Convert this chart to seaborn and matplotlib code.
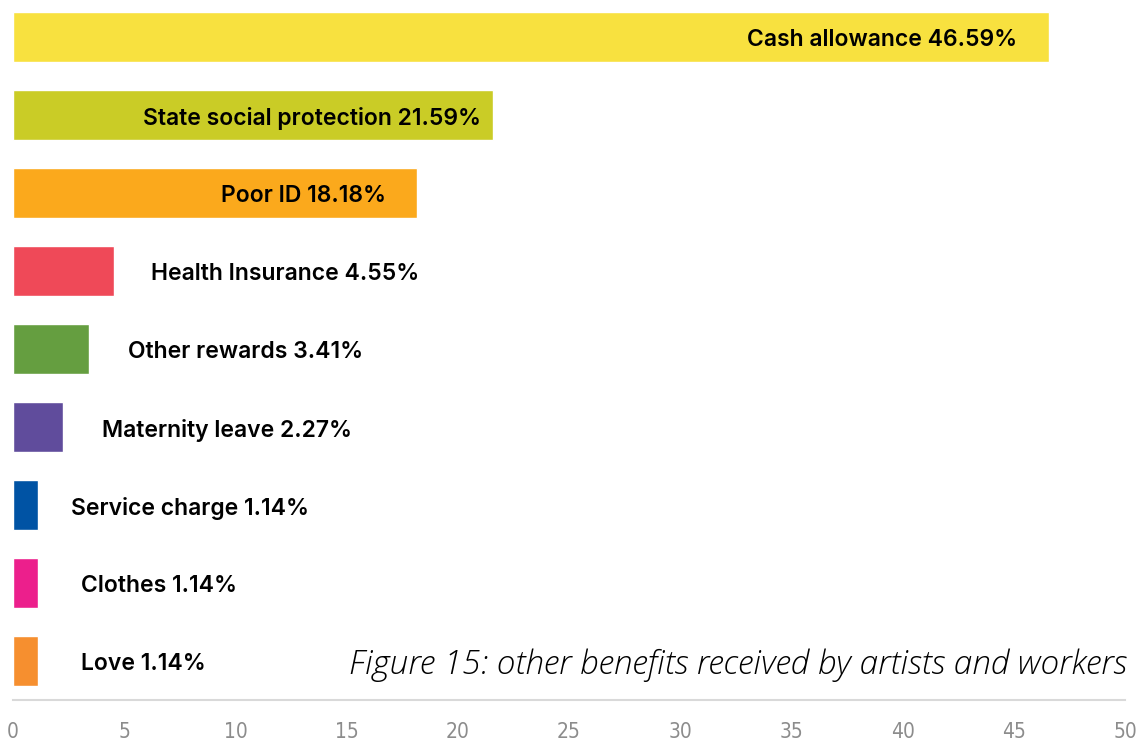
import matplotlib
matplotlib.use("Agg")
import matplotlib.pyplot as plt
import seaborn as sns
import pandas as pd

# Benefits received and their shares (%)
benefits = [
    "Cash allowance",
    "State social protection",
    "Poor ID",
    "Health Insurance",
    "Other rewards",
    "Maternity leave",
    "Service charge",
    "Clothes",
    "Love",
]
shares = [46.59, 21.59, 18.18, 4.55, 3.41, 2.27, 1.14, 1.14, 1.14]
bar_colors = [
    "#F8E13F", "#CACC26", "#FBA91C", "#EF4958", "#659E40",
    "#604C9C", "#0053A4", "#EC1F8C", "#F68F2F",
]
x_ticks = [0, 5, 10, 15, 20, 25, 30, 35, 40, 45, 50]
caption = "Figure 15: other benefits received by artists and workers"

# label placement: inside (right-aligned) for long bars, outside otherwise; offset in px
label_inside = [True, True, True, False, False, False, False, False, False]
label_offset = [32, 12, 31, 37, 39, 39, 33, 43, 43]

df = pd.DataFrame({"benefit": benefits, "share": shares})

sns.set_theme(style="white")
plt.rcParams["font.family"] = ["Inter", "DejaVu Sans"]

W, H = 1142, 740
fig = plt.figure(figsize=(W / 100, H / 100), dpi=100)
ax = fig.add_axes([13 / W, 40 / H, (1125 - 13) / W, 700 / H])

sns.barplot(
    data=df, x="share", y="benefit", hue="benefit", palette=bar_colors,
    legend=False, orient="h", width=0.64, saturation=1, ax=ax,
)

ax.set_xlim(0, 50)
ax.set_ylim(8.5, -0.47)
ax.set_xticks(x_ticks)
ax.set_xticklabels([str(t) for t in x_ticks], family="DejaVu Sans",
                   stretch="condensed", fontsize=15, color="#8C8C8C")
ax.tick_params(axis="x", length=0, pad=16)
ax.set_yticks([])
ax.set_xlabel("")
ax.set_ylabel("")
for side in ["top", "right", "left"]:
    ax.spines[side].set_visible(False)
ax.spines["bottom"].set_color("#D9D9D9")
ax.spines["bottom"].set_linewidth(1.5)

for i, (name, val) in enumerate(zip(benefits, shares)):
    off = label_offset[i] * 0.72
    if label_inside[i]:
        ax.annotate(f"{name} {val:.2f}%", xy=(val, i), xytext=(-off, -2.5),
                    textcoords="offset points", ha="right", va="center",
                    fontsize=16.5, fontweight="semibold", color="black")
    else:
        ax.annotate(f"{name} {val:.2f}%", xy=(val, i), xytext=(off, -2.5),
                    textcoords="offset points", ha="left", va="center",
                    fontsize=16.5, fontweight="semibold", color="black")

fig.text(1127 / W, 1 - 665 / H, caption, ha="right", va="center",
         fontsize=24, style="italic", family=["Open Sans", "DejaVu Sans"],
         fontweight="light", color="black")

fig.savefig("out.png", dpi=100)
